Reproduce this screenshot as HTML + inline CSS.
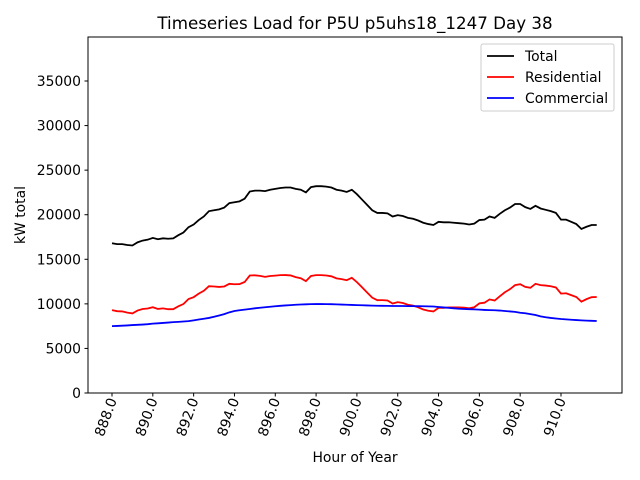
<!DOCTYPE html>
<html><head><meta charset="utf-8"><style>
html,body{margin:0;padding:0;background:#fff;}
svg{display:block;font-family:"DejaVu Sans","Liberation Sans",sans-serif;}
</style></head><body>
<svg id="chart" width="640" height="480" viewBox="0 0 640 480">
<rect x="0" y="0" width="640" height="480" fill="#fff"/>
<text x="355" y="29" text-anchor="middle" font-size="16.7">Timeseries Load for P5U p5uhs18_1247  Day 38</text>
<g id="grid"></g>
<g id="series"></g>
<rect x="88" y="37" width="534" height="356" fill="none" stroke="#000" stroke-width="1"/>
<g id="axes"></g>
<text x="355" y="462" text-anchor="middle" font-size="13.9">Hour of Year</text>
<text transform="translate(25,215) rotate(-90)" text-anchor="middle" font-size="13.9">kW total</text>
<g>
<rect x="481" y="44" width="133" height="67" rx="2" fill="#fff" stroke="#ccc"/>
<g><line x1="487" y1="56" x2="514" y2="56" stroke="#000" stroke-width="1.8"/><text x="525" y="61" font-size="13.9">Total</text></g>
<g><line x1="487" y1="77" x2="514" y2="77" stroke="red" stroke-width="1.8"/><text x="525" y="82" font-size="13.9">Residential</text></g>
<g><line x1="487" y1="98" x2="514" y2="98" stroke="blue" stroke-width="1.8"/><text x="525" y="103" font-size="13.9">Commercial</text></g>
</g>
</svg>
<script>
const startHour = 888;
const stepHour = 0.25;
const xTicks = [888,890,892,894,896,898,900,902,904,906,908,910];
const xTickLabels = ["888.0","890.0","892.0","894.0","896.0","898.0","900.0","902.0","904.0","906.0","908.0","910.0"];
const yTicks = [0,5000,10000,15000,20000,25000,30000,35000];
const yTickLabels = ["0","5000","10000","15000","20000","25000","30000","35000"];
const totalLoad = [16800,16700,16700,16600,16550,16900,17100,17200,17400,17250,17350,17300,17350,17700,18000,18600,18900,19400,19800,20400,20500,20600,20800,21300,21400,21500,21800,22600,22700,22700,22650,22800,22900,23000,23050,23050,22900,22800,22500,23100,23200,23200,23150,23050,22800,22700,22550,22800,22300,21700,21100,20500,20200,20200,20150,19800,19950,19850,19650,19550,19350,19100,18950,18850,19200,19150,19150,19100,19050,19000,18900,19000,19400,19450,19800,19650,20100,20500,20800,21200,21200,20850,20650,21000,20700,20550,20400,20200,19450,19450,19200,18950,18400,18650,18850,18850];
const residentialLoad = [9300,9180,9150,9020,8930,9250,9420,9480,9620,9430,9490,9400,9400,9720,9980,10540,10750,11150,11470,11980,11950,11900,11950,12250,12200,12220,12450,13180,13200,13140,13030,13120,13170,13220,13230,13190,13000,12870,12550,13130,13220,13220,13180,13090,12860,12780,12650,12920,12440,11860,11280,10700,10410,10420,10380,10040,10190,10090,9900,9800,9610,9370,9230,9150,9550,9550,9600,9600,9600,9580,9500,9620,10050,10130,10500,10370,10850,11300,11650,12100,12200,11900,11800,12250,12100,12050,11980,11840,11150,11190,10980,10770,10250,10530,10750,10770];
const commercialLoad = [7500,7520,7550,7580,7620,7650,7680,7720,7780,7820,7860,7900,7950,7980,8020,8060,8150,8250,8330,8420,8550,8700,8850,9050,9200,9280,9350,9420,9500,9560,9620,9680,9730,9780,9820,9860,9900,9930,9950,9970,9980,9980,9970,9960,9940,9920,9900,9880,9860,9840,9820,9800,9790,9780,9770,9760,9760,9760,9750,9750,9740,9730,9720,9700,9650,9600,9550,9500,9450,9420,9400,9380,9350,9320,9300,9280,9250,9200,9150,9100,9000,8950,8850,8750,8600,8500,8420,8360,8300,8260,8220,8180,8150,8120,8100,8080];

const NS="http://www.w3.org/2000/svg";
function xScale(h){return 112+(h-888)*(449/22);}
function yScale(v){return 393-v*(312/35000);}
const axes=document.getElementById('axes');
xTicks.forEach((t,i)=>{
  const x=xScale(t);
  const l=document.createElementNS(NS,'line');
  l.setAttribute('x1',x);l.setAttribute('x2',x);l.setAttribute('y1',393);l.setAttribute('y2',396.5);l.setAttribute('stroke','#000');
  
  
  axes.appendChild(l);
  const tx=document.createElementNS(NS,'text');
  tx.setAttribute('transform',`translate(${x+5},400) rotate(-70)`);
  tx.setAttribute('text-anchor','end');tx.setAttribute('font-size','13.9');
  tx.textContent=xTickLabels[i];
  
  
  axes.appendChild(tx);
});
yTicks.forEach((t,i)=>{
  const y=yScale(t);
  const l=document.createElementNS(NS,'line');
  l.setAttribute('x1',84.5);l.setAttribute('x2',88);l.setAttribute('y1',y);l.setAttribute('y2',y);l.setAttribute('stroke','#000');
  
  
  axes.appendChild(l);
  const tx=document.createElementNS(NS,'text');
  tx.setAttribute('x',81);tx.setAttribute('y',y+5);
  tx.setAttribute('text-anchor','end');tx.setAttribute('font-size','13.9');
  tx.textContent=yTickLabels[i];
  
  
  axes.appendChild(tx);
});
const series=document.getElementById('series');
function drawLine(vals,color,name){
  const p=document.createElementNS(NS,'polyline');
  p.setAttribute('points',vals.map((v,i)=>xScale(startHour+i*stepHour).toFixed(2)+','+yScale(v).toFixed(2)).join(' '));
  p.setAttribute('fill','none');p.setAttribute('stroke',color);p.setAttribute('stroke-width','1.8');
  
  
  series.appendChild(p);
}
drawLine(totalLoad,'#000','total-line');
drawLine(residentialLoad,'red','residential-line');
drawLine(commercialLoad,'blue','commercial-line');
</script>
</body></html>
